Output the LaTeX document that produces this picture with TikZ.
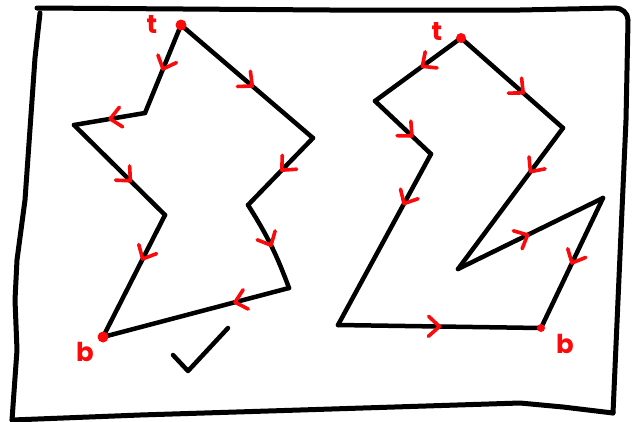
\documentclass[tikz,border=0pt]{standalone}
\usepackage{fontspec}
\setsansfont{Poppins}
\usetikzlibrary{decorations.markings}
\definecolor{pen}{RGB}{250,10,10}
\tikzset{
  ink/.style={line width=4.5pt, line cap=round, line join=round, black},
  redink/.style={line width=3.6pt, line cap=round, line join=round, pen},
  chev/.style={postaction={decorate,decoration={markings,
     mark=at position #1 with {\draw[redink] (-11pt,10pt) -- (0pt,0pt) -- (-11pt,-10pt);}}}},
  lbl/.style={text=pen, font=\sffamily\bfseries\fontsize{26}{26}\selectfont, inner sep=0pt},
  dotmark/.style={circle, fill=pen, inner sep=0pt, minimum size=#1}
}
\begin{document}
\begin{tikzpicture}[x=1pt,y=-1pt]
\useasboundingbox (0,0) rectangle (636,421);
% frame
\draw[ink, line width=5pt] (37,8) -- (330,10) -- (520,10) -- (615,8) to[out=0,in=90] (628,20)
  -- (626,120) -- (618,300) -- (613,413);
\draw[ink, line width=5pt] (613,413) -- (563,407) -- (520,403) -- (300,410) -- (140,415) -- (12,420);
\draw[ink, line width=5pt] (12,420) -- (17,350) -- (15,300) -- (17,260) -- (25,200) -- (35,58) -- (40,13);
% left polygon
\coordinate (t1) at (181,25);
\coordinate (l1) at (145,113);
\coordinate (l2) at (74,125);
\coordinate (l3) at (165,215);
\coordinate (b1) at (103,337);
\coordinate (r1) at (313,138);
\coordinate (r2) at (248,205);
\coordinate (r3) at (289,288);
\draw[ink, chev=0.5] (t1) -- (l1);
\draw[ink, chev=0.49] (l1) -- (l2);
\draw[ink, chev=0.62] (l2) -- (l3);
\draw[ink, chev=0.36] (l3) -- (b1);
\draw[ink, chev=0.54] (t1) -- (r1);
\draw[ink, chev=0.48] (r1) -- (r2);
\draw[ink, chev=0.5] (r2) to[bend left=6] (r3);
\draw[ink, chev=0.29] (r3) -- (b1);
\node[dotmark=11pt] (dt1) at (t1) {};
\node[dotmark=11pt] (db1) at (b1) {};
\node[lbl] (lt1) at (152,24) {t};
\node[lbl] (lb1) at (85,352) {b};
% check mark
\coordinate (k1) at (173,355);
\coordinate (k2) at (188,371);
\coordinate (k3) at (228,328);
\draw[ink] (k1) -- (k2) -- (k3);
% right polygon
\coordinate (t2) at (461,38);
\coordinate (a1) at (375,101);
\coordinate (a2) at (431,154);
\coordinate (a3) at (338,325);
\coordinate (b2) at (541,328);
\coordinate (c1) at (563,128);
\coordinate (c2) at (458,269);
\coordinate (c3) at (603,198);
\draw[ink, chev=0.45] (t2) -- (a1);
\draw[ink, chev=0.66] (a1) -- (a2);
\draw[ink, chev=0.29] (a2) -- (a3);
\draw[ink, chev=0.5] (a3) -- (b2);
\draw[ink, chev=0.61] (t2) -- (c1);
\draw[ink, chev=0.31] (c1) -- (c2);
\draw[ink, chev=0.48] (c2) -- (c3);
\draw[ink, chev=0.5] (c3) -- (b2);
\node[dotmark=10pt] (dt2) at (t2) {};
\node[dotmark=8pt] (db2) at (b2) {};
\node[lbl] (lt2) at (437,31) {t};
\node[lbl] (lb2) at (565,344) {b};
\end{tikzpicture}
\end{document}
